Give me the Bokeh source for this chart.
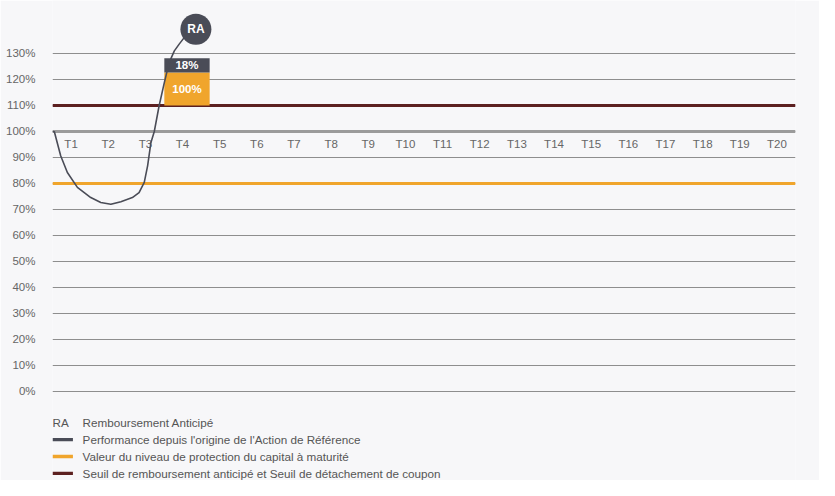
from bokeh.plotting import figure
from bokeh.models import Range1d, FixedTicker, CustomJSTickFormatter
from bokeh.embed import file_html
from bokeh.resources import INLINE
from bokeh.core.properties import value

# ---- data ----
periods = ["T%d" % i for i in range(1, 21)]
period_x = [i - 0.5 for i in range(1, 21)]
y_ticks = [0, 10, 20, 30, 40, 50, 60, 70, 80, 90, 100, 110, 120, 130]

perf_x = [0.0, 0.05, 0.22, 0.40, 0.67, 1.03, 1.30, 1.57, 1.84, 2.15, 2.33, 2.47,
          2.56, 2.65, 2.74, 2.87, 3.01, 3.14, 3.28, 3.41, 3.55]
perf_y = [100.0, 99.9, 90.7, 84.2, 78.5, 74.6, 72.7, 72.0, 73.0, 74.6, 76.5, 80.4,
          86.8, 95.8, 100.0, 109.9, 118.8, 126.5, 131.0, 133.6, 136.2]

reference_level = 100
protection_level = 80
autocall_level = 110

capital_bar = [110.0, 122.7]   # bottom, top  -> "100%"
coupon_bar = [122.7, 128.2]    # bottom, top  -> "18%"
bar_span = [3.01, 4.23]
bar_labels = ["100%", "18%"]
ra_point = (3.86, 139.3)

legend_labels = ["Performance depuis l'origine de l'Action de Référence",
                 "Valeur du niveau de protection du capital à maturité",
                 "Seuil de remboursement anticipé et Seuil de détachement de coupon"]

# ---- style ----
BG = "#f7f7f9"
GREY = "#4a4c57"
ORANGE = "#f0a52c"
DARKRED = "#5c2020"
LINEGREY = "#9b9b9b"
TXT = "#666666"
FONT = "Liberation Sans"

p = figure(width=819, height=480, output_backend="svg", toolbar_location=None,
           x_range=Range1d(0, 20), y_range=Range1d(-34.23, 150.38),
           x_axis_location=None,
           min_border_left=52, min_border_right=24, min_border_top=0, min_border_bottom=0,
           background_fill_color=BG, border_fill_color=BG, outline_line_color=None)

p.yaxis.ticker = FixedTicker(ticks=y_ticks)
p.yaxis.formatter = CustomJSTickFormatter(code="return tick + '%';")
p.yaxis.axis_line_color = None
p.yaxis.major_tick_line_color = None
p.yaxis.minor_tick_line_color = None
p.yaxis.major_tick_out = 0
p.yaxis.major_tick_in = 0
p.yaxis.major_label_standoff = 17
p.yaxis.major_label_text_font = FONT
p.yaxis.major_label_text_font_size = "11.5px"
p.yaxis.major_label_text_color = TXT
p.xgrid.visible = False
p.ygrid.ticker = FixedTicker(ticks=y_ticks)
p.ygrid.grid_line_color = "#8e8e8e"
p.ygrid.grid_line_width = 1

# threshold lines
p.line([0, 20], [reference_level] * 2, line_color=LINEGREY, line_width=3.2)
p.line([0, 20], [protection_level] * 2, line_color=ORANGE, line_width=3.2)
p.line([0, 20], [autocall_level] * 2, line_color=DARKRED, line_width=3.2)

# period labels
p.text(x=period_x, y=[95] * len(period_x), text=periods, text_align="center",
       text_baseline="middle", text_font=value(FONT), text_font_size="11.5px",
       text_color=TXT)

# bars
p.quad(left=[bar_span[0]], right=[bar_span[1]], bottom=[capital_bar[0]], top=[capital_bar[1]],
       fill_color=ORANGE, line_color=None)
p.quad(left=[bar_span[0]], right=[bar_span[1]], bottom=[coupon_bar[0]], top=[coupon_bar[1]],
       fill_color=GREY, line_color=None)
bar_cx = (bar_span[0] + bar_span[1]) / 2
p.text(x=[bar_cx, bar_cx],
       y=[(capital_bar[0] + capital_bar[1]) / 2, (coupon_bar[0] + coupon_bar[1]) / 2],
       text=bar_labels, text_align="center", text_baseline="middle",
       text_font=value(FONT), text_font_size="11.5px", text_font_style="bold",
       text_color="white")

# performance curve
p.line(perf_x, perf_y, line_color=GREY, line_width=1.6)

# RA bubble
p.scatter([ra_point[0]], [ra_point[1]], size=31, fill_color=GREY, line_color=None)
p.text(x=[ra_point[0]], y=[ra_point[1]], text=["RA"], text_align="center",
       text_baseline="middle", text_font=value(FONT), text_font_size="12px",
       text_font_style="bold", text_color="white")

# legend (drawn in the lower part of the frame)
leg_y = [-11.9, -18.5, -25.0, -31.5]
p.text(x=[0.0], y=[leg_y[0]], text=["RA"], text_baseline="middle",
       text_font=value(FONT), text_font_size="11.7px", text_color="#555555")
p.text(x=[0.81] * 4, y=leg_y, text=["Remboursement Anticipé"] + legend_labels,
       text_baseline="middle", text_font=value(FONT), text_font_size="11.7px",
       text_color="#555555")
for yy, c in zip(leg_y[1:], [GREY, ORANGE, DARKRED]):
    p.line([0.0, 0.55], [yy, yy], line_color=c, line_width=3.3)

open("out.html", "w").write(file_html(p, INLINE))
